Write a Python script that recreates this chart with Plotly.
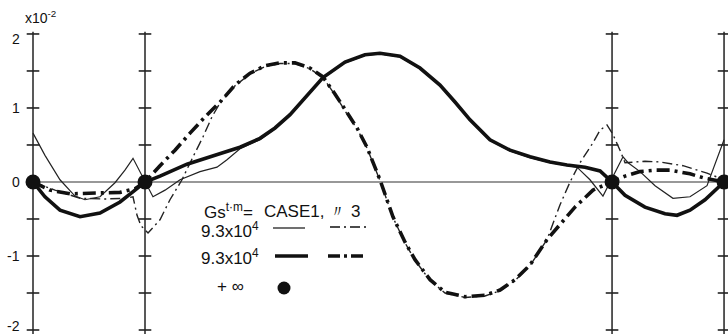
import plotly.graph_objects as go

W, H = 728, 334

# support positions (x) and axis ticks
supports = [0.0, 10.0, 51.7, 61.7]
support_y = [0, 0, 0, 0]
tick_vals = [-2, -1.5, -1, -0.5, 0, 0.5, 1, 1.5, 2]
label_vals = [-2, -1, 0, 1, 2]
label_text = ["-2", "-1", "0", "1", "2"]

# thick solid curve
ts_x = [0, 1.07, 2.41, 4.20, 5.98, 7.77, 9.11, 10,
        11.34, 13.75, 16.25, 18.48, 20.27, 21.61, 22.95, 24.29, 25.89, 27.86, 29.64,
        30.98, 32.77, 34.55, 36.34, 37.68, 39.02, 40.80, 42.59, 44.38, 46.16, 47.68,
        49.29, 50.63, 51.70,
        52.86, 54.64, 56.43, 57.50, 58.66, 60.0, 61.70]
ts_y = [0, -0.20, -0.38, -0.47, -0.42, -0.27, -0.11, 0,
        0.08, 0.24, 0.36, 0.47, 0.59, 0.73, 0.91, 1.14, 1.41, 1.62, 1.72,
        1.74, 1.70, 1.54, 1.31, 1.08, 0.84, 0.57, 0.43, 0.34, 0.27, 0.23,
        0.20, 0.15, 0,
        -0.18, -0.34, -0.43, -0.45, -0.38, -0.24, 0]

# thick dash-dot curve
td_x = [0, 1.52, 3.30, 5.98, 7.77, 9.11, 10,
        11.34, 12.68, 14.02, 15.36, 16.70, 18.04, 19.38, 20.71, 22.05, 23.39, 24.73,
        25.89, 26.96, 27.86, 28.93, 29.82, 30.98, 32.14, 33.21, 34.11, 35.45, 36.79,
        38.57, 40.36, 41.70, 43.04, 44.38, 45.89, 47.05, 48.39, 50.0, 51.70,
        52.86, 54.20, 55.54, 56.88, 58.66, 60.0, 61.70]
td_y = [0, -0.11, -0.16, -0.15, -0.14, -0.09, 0,
        0.22, 0.43, 0.66, 0.88, 1.08, 1.31, 1.47, 1.57, 1.61, 1.61, 1.54,
        1.42, 1.19, 0.97, 0.73, 0.47, 0.03, -0.47, -0.81, -1.05, -1.32, -1.49,
        -1.55, -1.53, -1.46, -1.32, -1.12, -0.78, -0.58, -0.34, -0.11, 0,
        0.08, 0.14, 0.16, 0.16, 0.11, 0.05, 0]

# thin solid curve
tn_x = [0, 1.07, 2.41, 3.75, 4.64, 5.98, 7.32, 8.21, 8.93, 9.55, 10,
        10.71, 11.79, 13.13, 14.91, 16.43, 17.32, 18.48, 20.27, 21.61, 22.95, 24.29,
        25.89, 27.86, 29.64, 30.98, 32.77, 34.55, 36.34, 37.68, 39.02, 40.80, 42.59,
        44.38, 46.16, 47.68, 48.57, 49.73, 50.89,
        52.68, 53.13, 54.20, 55.54, 57.14, 58.66, 60.18, 60.89, 61.70]
tn_y = [0.66, 0.36, 0.03, -0.19, -0.24, -0.20, -0.01, 0.16, 0.32, 0.14, 0,
        -0.20, -0.11, 0.03, 0.14, 0.20, 0.30, 0.45, 0.57, 0.72, 0.90, 1.13,
        1.40, 1.61, 1.71, 1.73, 1.69, 1.53, 1.30, 1.07, 0.83, 0.56, 0.42,
        0.33, 0.26, 0.22, 0.20, 0.03, -0.19,
        0.34, 0.26, 0.14, -0.05, -0.22, -0.20, -0.05, 0.23, 0.57]

# thin dash-dot curve
tdd_x = [0, 1.96, 4.20, 6.43, 8.21, 8.93, 9.29, 9.64, 10.27,
         11.34, 12.23, 13.30, 14.29, 15.18, 15.98, 16.70, 18.04, 19.38, 20.71, 22.05,
         23.39, 24.73, 25.89, 26.96, 27.86, 28.93, 29.82, 30.98, 32.14, 33.21, 34.11,
         35.45, 36.79, 38.57, 40.36, 41.70, 43.04, 44.38, 45.89, 47.05, 47.95, 48.84,
         50.0, 50.63, 51.25, 51.79, 52.41, 52.86, 53.75, 54.64, 55.98, 58.04, 60.18, 61.70]
tdd_y = [0, -0.11, -0.22, -0.23, -0.22, -0.20, -0.45, -0.59, -0.69,
         -0.51, -0.24, 0.03, 0.34, 0.61, 0.88, 1.07, 1.30, 1.46, 1.56, 1.60,
         1.60, 1.53, 1.41, 1.18, 0.96, 0.72, 0.46, 0.02, -0.48, -0.82, -1.06,
         -1.33, -1.50, -1.56, -1.54, -1.47, -1.33, -1.13, -0.78, -0.31, 0.0, 0.26,
         0.53, 0.70, 0.77, 0.64, 0.43, 0.26, 0.27, 0.28, 0.27, 0.22, 0.12, 0.03]

# legend texts
legend_title = "Gs<sup>t·m</sup>="
legend_case = "CASE1, 〃 3"
legend_rows = ["9.3x10<sup>4</sup>", "9.3x10<sup>4</sup>"]
legend_inf = "+ ∞"
axis_exp = "x10<sup>-2</sup>"

FONT = "Liberation Sans, Arial, sans-serif"
INK = "#111111"

XR = [-2.946, 62.054]
YR = [-2.054, 2.459]

fig = go.Figure()

# curves
fig.add_trace(go.Scatter(x=tn_x, y=tn_y, mode="lines",
                         line=dict(color="#222", width=1.2)))
fig.add_trace(go.Scatter(x=tdd_x, y=tdd_y, mode="lines",
                         line=dict(color="#222", width=1.4, dash="10px,4px,2px,4px")))
fig.add_trace(go.Scatter(x=td_x, y=td_y, mode="lines",
                         line=dict(color=INK, width=3.6, dash="13px,5px,3px,5px")))
fig.add_trace(go.Scatter(x=ts_x, y=ts_y, mode="lines",
                         line=dict(color=INK, width=3.6)))

# tick marks crossing every support line
tx, ty = [], []
for s in supports:
    for v in tick_vals:
        tx.append(s)
        ty.append(v)
fig.add_trace(go.Scatter(x=tx, y=ty, mode="markers",
                         marker=dict(symbol="line-ew", size=9,
                                     line=dict(color="#222", width=1.6))))

# support dots
fig.add_trace(go.Scatter(x=supports, y=support_y, mode="markers",
                         marker=dict(color=INK, size=15)))

shapes = []
for s in supports:
    shapes.append(dict(type="line", xref="x", yref="y", x0=s, x1=s, y0=-2.2, y1=2.03,
                       line=dict(color="#222", width=1.5), layer="below"))
shapes.append(dict(type="line", xref="x", yref="y", x0=supports[0], x1=supports[-1],
                   y0=0, y1=0, line=dict(color="#333", width=1.1), layer="below"))


def pxx(v):
    return v / W


def pyy(v):
    return 1 - v / H


# legend sample lines
samples = [
    (273, 305, 228, 1.2, "solid"),
    (330, 366, 227, 1.4, "10px,4px,2px,4px"),
    (275, 308, 256, 3.4, "solid"),
    (328, 367, 256, 3.4, "12px,4px,3px,4px"),
]
for x0, x1, yy, w, d in samples:
    shapes.append(dict(type="line", xref="paper", yref="paper",
                       x0=pxx(x0), x1=pxx(x1), y0=pyy(yy), y1=pyy(yy),
                       line=dict(color=INK, width=w, dash=d)))

annotations = [
    dict(x=pxx(202), y=pyy(211), text=legend_title),
    dict(x=pxx(262), y=pyy(211), text=legend_case),
    dict(x=pxx(199), y=pyy(230), text=legend_rows[0]),
    dict(x=pxx(199), y=pyy(257), text=legend_rows[1]),
    dict(x=pxx(215), y=pyy(286), text=legend_inf),
    dict(x=pxx(23), y=pyy(17), text=axis_exp, font=dict(size=14, family=FONT, color=INK)),
]
for a in annotations:
    a.update(xref="paper", yref="paper", xanchor="left", yanchor="middle",
             showarrow=False)
    a.setdefault("font", dict(size=17, family=FONT, color=INK))

# y-axis tick labels, placed left of the first support line
label_nudge = {2: -0.07, -2: 0.06}
for v, t in zip(label_vals, label_text):
    annotations.append(dict(x=pxx(22), xref="paper", y=v + label_nudge.get(v, 0),
                            yref="y", text=t, xanchor="right", yanchor="middle",
                            showarrow=False,
                            font=dict(size=14, family=FONT, color=INK)))

# legend dot (+inf)
fig.add_trace(go.Scatter(x=[XR[0] + pxx(284) * (XR[1] - XR[0])],
                         y=[YR[1] - (288 / H) * (YR[1] - YR[0])],
                         mode="markers", marker=dict(color=INK, size=13)))

fig.update_layout(
    width=W, height=H, margin=dict(l=0, r=0, t=0, b=0),
    paper_bgcolor="white", plot_bgcolor="white", showlegend=False,
    shapes=shapes, annotations=annotations,
    xaxis=dict(range=XR, visible=False),
    yaxis=dict(range=YR, visible=False),
)

fig.write_html("out.html", config={"displayModeBar": False},
               post_script="document.body.style.margin='0';"
                           "document.body.style.overflow='hidden';")
